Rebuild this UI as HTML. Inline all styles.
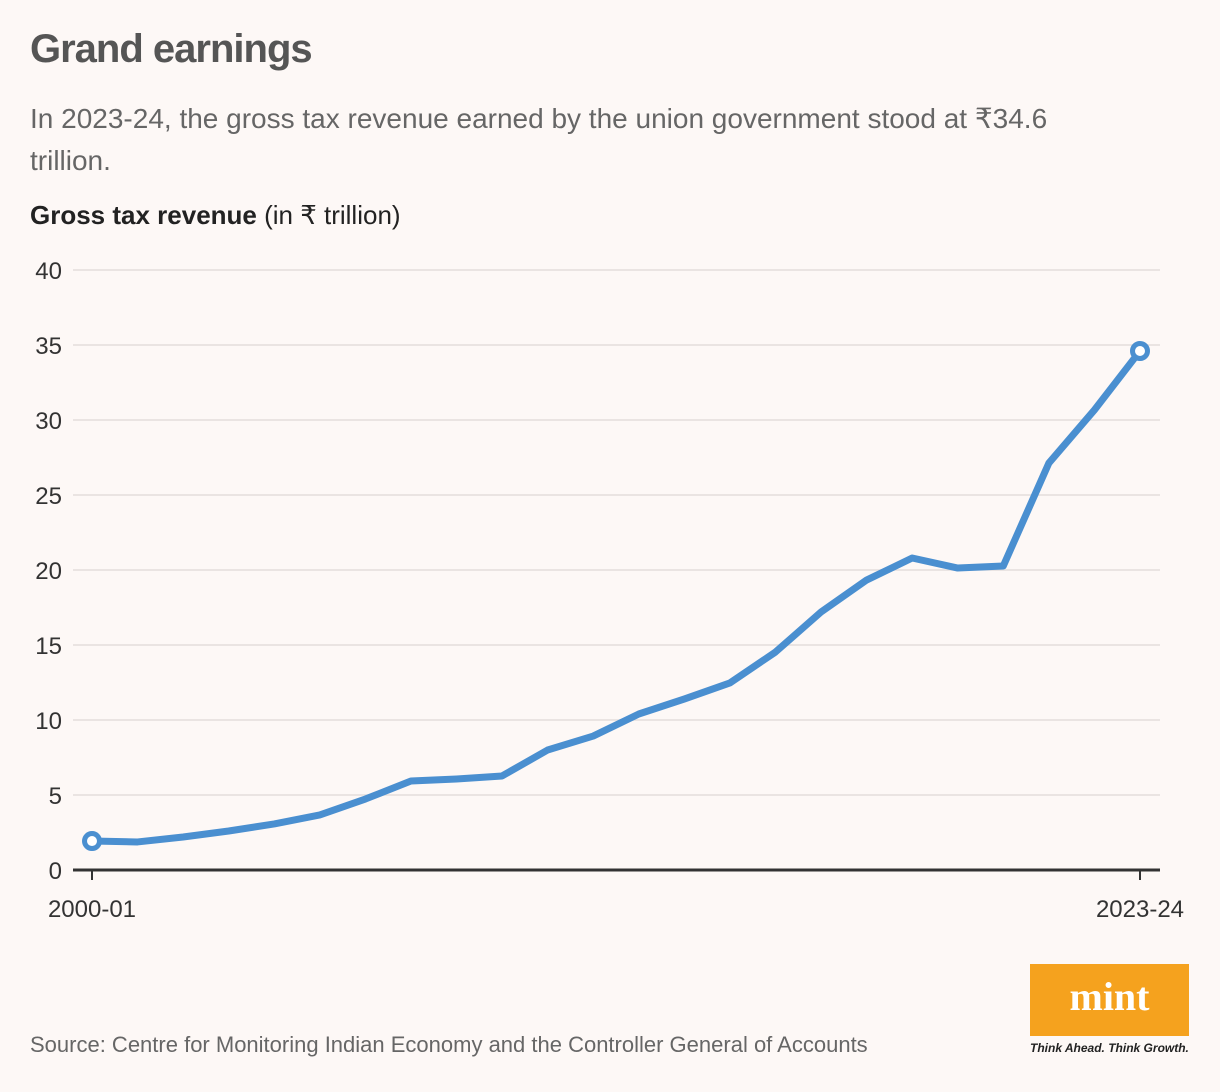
<!DOCTYPE html>
<html><head><meta charset="utf-8"><style>
body{margin:0;background:#fdf8f6;width:1220px;height:1092px;overflow:hidden;font-family:"Liberation Sans",sans-serif;}
.t{position:absolute;left:30px;top:27px;font-size:40px;font-weight:bold;color:#555;letter-spacing:-1px}
.s{position:absolute;left:30px;top:98px;font-size:28px;color:#666;line-height:42px;width:1085px}
.yt{position:absolute;left:30px;top:200px;font-size:26px;color:#222}
.src{position:absolute;left:30px;top:1032px;font-size:22px;color:#666}
.logo{position:absolute;left:1030px;top:964px;width:159px;height:72px;background:#f5a21e;color:#fff;font:bold 40px "Liberation Serif",serif;text-align:center;line-height:66px}
.tag{position:absolute;left:1030px;top:1041px;font-size:12px;font-style:italic;font-weight:bold;color:#222}
</style></head><body>
<div class="t">Grand earnings</div>
<div class="s">In 2023-24, the gross tax revenue earned by the union government stood at ₹34.6 trillion.</div>
<div class="yt"><b>Gross tax revenue</b> (in ₹ trillion)</div>
<svg id="c" width="1220" height="1092" style="position:absolute;left:0;top:0"></svg>
<div class="src">Source: Centre for Monitoring Indian Economy and the Controller General of Accounts</div>
<div class="logo">mint</div>
<div class="tag">Think Ahead. Think Growth.</div>
<script>
const years=["2000-01","2001-02","2002-03","2003-04","2004-05","2005-06","2006-07","2007-08","2008-09","2009-10","2010-11","2011-12","2012-13","2013-14","2014-15","2015-16","2016-17","2017-18","2018-19","2019-20","2020-21","2021-22","2022-23","2023-24"];
const revenue=[1.93,1.87,2.2,2.6,3.07,3.67,4.73,5.93,6.07,6.27,8.0,8.93,10.4,11.4,12.47,14.53,17.2,19.33,20.8,20.13,20.27,27.13,30.67,34.6];
const yTicks=[0,5,10,15,20,25,30,35,40];
const xLabels=["2000-01","2023-24"];
const NS="http://www.w3.org/2000/svg",svg=document.getElementById('c');
const x=i=>92+i*(1140-92)/(years.length-1);
const y=v=>870-v*15;
function mk(t,a){const e=document.createElementNS(NS,t);for(const k in a)e.setAttribute(k,a[k]);svg.appendChild(e);return e;}
yTicks.forEach(v=>{
 if(v>0){const l=mk('line',{x1:73,x2:1160,y1:y(v),y2:y(v),stroke:'#e3dedc','stroke-width':1.5});
 
 }
 const t=mk('text',{x:62,y:y(v)+9,'text-anchor':'end','font-size':24,fill:'#333','font-family':'Liberation Sans'});t.textContent=v;
 
 
});
const ax=mk('line',{x1:73,x2:1160,y1:870,y2:870,stroke:'#333','stroke-width':3});


[0,years.length-1].forEach((i,k)=>{
 const tk=mk('line',{x1:x(i),x2:x(i),y1:870,y2:880,stroke:'#333','stroke-width':2});
 
 
 const t=mk('text',{x:x(i),y:917,'text-anchor':'middle','font-size':24,fill:'#333','font-family':'Liberation Sans'});t.textContent=xLabels[k];
 
 
});
const p=mk('polyline',{points:revenue.map((v,i)=>x(i)+','+y(v)).join(' '),fill:'none',stroke:'#4a8fd0','stroke-width':7,'stroke-linejoin':'round'});


[0,revenue.length-1].forEach(i=>{
 const c=mk('circle',{cx:x(i),cy:y(revenue[i]),r:7.5,fill:'#fff',stroke:'#4a8fd0','stroke-width':5});
 
 
});
</script>
</body></html>
